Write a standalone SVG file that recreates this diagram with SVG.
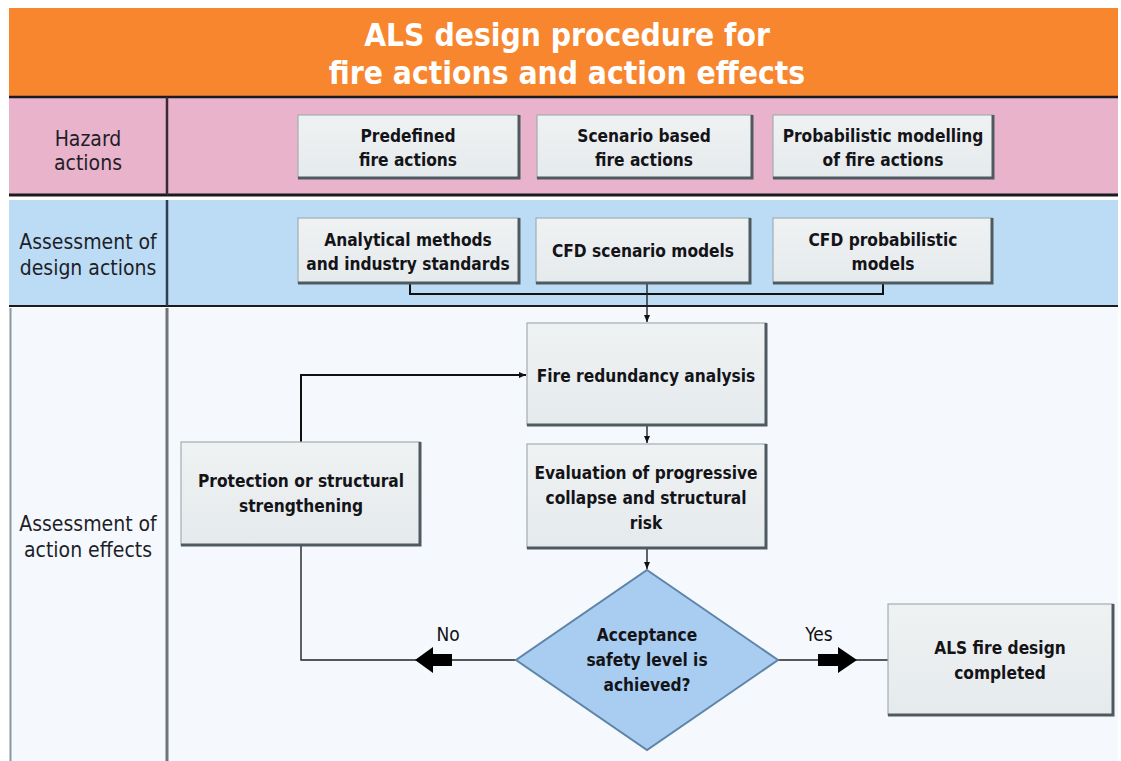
<svg xmlns="http://www.w3.org/2000/svg" width="1121" height="761" viewBox="0 0 1121 761">
  <style>
    .title { font-family: "DejaVu Sans Condensed", "DejaVu Sans", sans-serif; font-stretch: condensed; font-weight: bold; font-size: 31.5px; fill: #ffffff; text-anchor: middle; }
    .lane { font-family: "DejaVu Sans Condensed", "DejaVu Sans", sans-serif; font-stretch: condensed; font-size: 21px; fill: #1e1e28; text-anchor: middle; }
    .box { fill: url(#boxFill); stroke: #a3adb2; stroke-width: 1.2; }
    .edge { fill: none; stroke: #4f5a60; stroke-width: 3; }
    .label { font-family: "DejaVu Sans Condensed", "DejaVu Sans", sans-serif; font-stretch: condensed; font-weight: bold; font-size: 17.2px; fill: #141418; text-anchor: middle; }
    .flow { fill: none; stroke: #111111; stroke-width: 2; }
    .thin { fill: none; stroke: #222222; stroke-width: 1.4; }
    .yn { font-family: "DejaVu Sans Condensed", "DejaVu Sans", sans-serif; font-stretch: condensed; font-size: 19px; fill: #111111; text-anchor: middle; }
  </style>
  <defs>
    <linearGradient id="boxFill" x1="0" y1="0" x2="0" y2="1">
      <stop offset="0" stop-color="#eff2f3"/>
      <stop offset="1" stop-color="#e5eaec"/>
    </linearGradient>
    <marker id="tip" markerWidth="8" markerHeight="8" refX="7" refY="4" orient="auto" markerUnits="userSpaceOnUse">
      <path d="M0,1 L7,4 L0,7 Z" fill="#111111"/>
    </marker>
  </defs>

  <!-- page background -->
  <rect x="0" y="0" width="1121" height="761" fill="#ffffff"/>

  <!-- title band -->
  <rect x="9" y="8" width="1109" height="89" fill="#f7862f"/>
  <text class="title" x="567" y="46">ALS design procedure for</text>
  <text class="title" x="567" y="84">fire actions and action effects</text>

  <!-- lane: hazard actions -->
  <rect x="9" y="97" width="1109" height="98" fill="#e9b3cb"/>
  <line x1="9" y1="97" x2="1118" y2="97" stroke="#1a1a22" stroke-width="2.5"/>
  <line x1="9" y1="195" x2="1118" y2="195" stroke="#1a1a22" stroke-width="3"/>
  <line x1="167" y1="97" x2="167" y2="195" stroke="#3a2a34" stroke-width="2.5"/>
  <text class="lane" x="88" y="146">Hazard</text>
  <text class="lane" x="88" y="170">actions</text>

  <!-- lane: assessment of design actions -->
  <rect x="9" y="200" width="1109" height="106" fill="#bcdcf5"/>
  <line x1="9" y1="306" x2="1118" y2="306" stroke="#1a1a22" stroke-width="2"/>
  <line x1="167" y1="200" x2="167" y2="306" stroke="#2e3e52" stroke-width="2.5"/>
  <text class="lane" x="88" y="249">Assessment of</text>
  <text class="lane" x="88" y="275">design actions</text>

  <!-- lane: assessment of action effects -->
  <rect x="9" y="308" width="1109" height="453" fill="#f5f9fd"/>
  <line x1="10.5" y1="308" x2="10.5" y2="761" stroke="#8a9aa0" stroke-width="2"/>
  <line x1="167" y1="308" x2="167" y2="761" stroke="#6e7478" stroke-width="3"/>
  <text class="lane" x="88" y="531">Assessment of</text>
  <text class="lane" x="88" y="557">action effects</text>

  <!-- connectors -->
  <g id="connectors">
    <path class="flow" d="M410,283 V294 H883 V283"/>
    <path class="thin" d="M647,283 V322" marker-end="url(#tip)"/>
    <path class="thin" d="M647,425 V443" marker-end="url(#tip)"/>
    <path class="thin" d="M647,548 V569" marker-end="url(#tip)"/>
    <path class="flow" d="M301,442 V375 H526" marker-end="url(#tip)"/>
    <path class="thin" d="M301,545 V660 H516"/>
    <path class="thin" d="M778,660 H888"/>
    <!-- No: block arrow pointing left -->
    <path d="M452,654 H433 V647 L415,660 L433,673 V666 H452 Z" fill="#000000"/>
    <text class="yn" x="448" y="641">No</text>
    <!-- Yes: block arrow pointing right -->
    <path d="M818,654 H838 V647 L857,660 L838,673 V666 H818 Z" fill="#000000"/>
    <text class="yn" x="819" y="641">Yes</text>
  </g>

  <!-- hazard action nodes -->
  <g id="predefined">
    <rect class="box" x="298" y="115" width="221" height="63"/>
    <path class="edge" d="M519,115 V178 H298"/>
    <text class="label" x="408" y="142">Predefined</text>
    <text class="label" x="408" y="166">fire actions</text>
  </g>
  <g id="scenario-based">
    <rect class="box" x="537" y="115" width="215" height="63"/>
    <path class="edge" d="M752,115 V178 H537"/>
    <text class="label" x="644" y="142">Scenario based</text>
    <text class="label" x="644" y="166">fire actions</text>
  </g>
  <g id="probabilistic-modelling">
    <rect class="box" x="773" y="115" width="220" height="63"/>
    <path class="edge" d="M993,115 V178 H773"/>
    <text class="label" x="883" y="142">Probabilistic modelling</text>
    <text class="label" x="883" y="166">of fire actions</text>
  </g>

  <!-- design action nodes -->
  <g id="analytical-methods">
    <rect class="box" x="298" y="218" width="221" height="65"/>
    <path class="edge" d="M519,218 V283 H298"/>
    <text class="label" x="408" y="246">Analytical methods</text>
    <text class="label" x="408" y="270">and industry standards</text>
  </g>
  <g id="cfd-scenario">
    <rect class="box" x="536" y="218" width="214" height="65"/>
    <path class="edge" d="M750,218 V283 H536"/>
    <text class="label" x="643" y="257">CFD scenario models</text>
  </g>
  <g id="cfd-probabilistic">
    <rect class="box" x="773" y="218" width="219" height="65"/>
    <path class="edge" d="M992,218 V283 H773"/>
    <text class="label" x="883" y="246">CFD probabilistic</text>
    <text class="label" x="883" y="270">models</text>
  </g>

  <!-- action effect nodes -->
  <g id="fire-redundancy">
    <rect class="box" x="527" y="323" width="239" height="102"/>
    <path class="edge" d="M766,323 V425 H527"/>
    <text class="label" x="646" y="382">Fire redundancy analysis</text>
  </g>
  <g id="progressive-collapse">
    <rect class="box" x="527" y="444" width="239" height="104"/>
    <path class="edge" d="M766,444 V548 H527"/>
    <text class="label" x="646" y="479">Evaluation of progressive</text>
    <text class="label" x="646" y="504">collapse and structural</text>
    <text class="label" x="646" y="529">risk</text>
  </g>
  <g id="protection">
    <rect class="box" x="181" y="442" width="239" height="103"/>
    <path class="edge" d="M420,442 V545 H181"/>
    <text class="label" x="301" y="487">Protection or structural</text>
    <text class="label" x="301" y="512">strengthening</text>
  </g>
  <g id="acceptance">
    <polygon points="647,570 778,660 647,750 516,660" fill="#a8cdf1" stroke="#5e84a8" stroke-width="2"/>
    <text class="label" x="647" y="641">Acceptance</text>
    <text class="label" x="647" y="666">safety level is</text>
    <text class="label" x="647" y="691">achieved?</text>
  </g>
  <g id="als-completed">
    <rect class="box" x="888" y="604" width="225" height="111"/>
    <path class="edge" d="M1113,604 V715 H888"/>
    <text class="label" x="1000" y="654">ALS fire design</text>
    <text class="label" x="1000" y="679">completed</text>
  </g>
</svg>
